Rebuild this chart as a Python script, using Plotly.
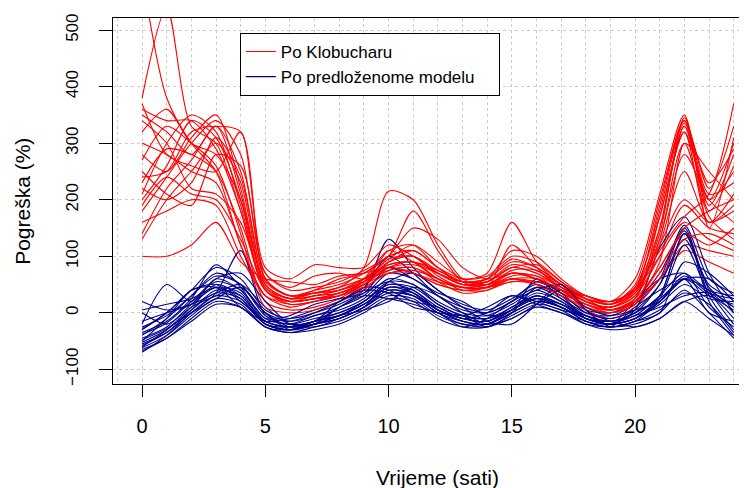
import plotly.graph_objects as go

hours = list(range(0, 25))

red_series = [
    [600, 380, 300, 250, 120, 30, 20, 25, 30, 60, 110, 90, 60, 45, 50, 70, 60, 40, 20, 10, 40, 150, 330, 200, 300],
    [380, 540, 330, 300, 180, 40, 15, 20, 30, 50, 90, 100, 70, 50, 55, 80, 70, 45, 25, 15, 50, 200, 340, 180, 260],
    [100, 100, 120, 160, 90, 60, 55, 50, 65, 70, 80, 70, 55, 45, 50, 60, 50, 35, 15, 5, 20, 60, 120, 110, 100],
    [130, 200, 250, 300, 230, 50, 25, 35, 45, 80, 215, 200, 120, 60, 50, 70, 60, 40, 30, 20, 60, 210, 350, 150, 310],
    [140, 220, 270, 330, 250, 60, 30, 40, 50, 70, 100, 180, 110, 55, 45, 60, 55, 40, 30, 15, 45, 170, 320, 200, 250],
    [180, 240, 300, 340, 280, 70, 45, 65, 70, 60, 90, 110, 80, 60, 70, 160, 90, 50, 30, 20, 40, 120, 200, 160, 180],
    [200, 260, 340, 310, 200, 40, 20, 25, 35, 55, 85, 90, 75, 55, 60, 95, 80, 50, 20, 10, 30, 100, 190, 150, 140],
    [210, 300, 350, 320, 190, 45, 25, 30, 40, 60, 95, 120, 90, 60, 65, 100, 90, 55, 25, 5, 20, 80, 150, 180, 200],
    [230, 290, 280, 250, 150, 20, 5, 10, 25, 50, 70, 75, 60, 40, 45, 60, 60, 40, 10, 0, 20, 90, 300, 170, 130],
    [240, 250, 320, 330, 320, 60, 30, 35, 45, 60, 80, 85, 70, 50, 50, 75, 75, 45, 20, 10, 35, 140, 345, 210, 230],
    [270, 330, 300, 260, 140, 10, 0, 5, 20, 40, 75, 80, 55, 35, 40, 55, 50, 30, 5, -10, 10, 60, 110, 90, 70],
    [300, 280, 250, 230, 120, 30, 10, 20, 30, 50, 80, 70, 50, 40, 45, 65, 65, 35, 15, 0, 15, 120, 250, 160, 190],
    [320, 360, 300, 280, 200, 50, 25, 40, 60, 70, 100, 110, 80, 50, 55, 85, 75, 50, 25, 20, 40, 110, 170, 210, 370],
    [340, 300, 220, 210, 160, 45, 20, 25, 35, 50, 90, 100, 65, 45, 45, 70, 60, 40, 20, 5, 25, 150, 330, 190, 280],
    [350, 320, 280, 330, 210, 55, 30, 35, 40, 60, 85, 90, 70, 55, 60, 90, 80, 50, 25, 15, 40, 190, 340, 220, 330],
    [360, 340, 340, 290, 180, 40, 20, 30, 35, 55, 110, 120, 80, 55, 55, 80, 70, 45, 20, 10, 30, 130, 280, 200, 160],
    [370, 280, 260, 250, 320, 80, 60, 85, 80, 80, 120, 100, 70, 50, 60, 110, 100, 60, 30, 20, 40, 100, 160, 130, 110],
    [220, 200, 230, 310, 240, 60, 30, 35, 40, 55, 75, 80, 60, 45, 45, 55, 55, 40, 15, 5, 25, 80, 140, 120, 150],
    [190, 240, 210, 200, 130, 40, 20, 25, 30, 45, 70, 70, 50, 40, 40, 60, 50, 30, 10, 0, 15, 70, 130, 140, 120],
    [250, 210, 190, 280, 260, 70, 40, 45, 55, 75, 100, 150, 130, 80, 60, 70, 65, 45, 25, 15, 35, 130, 300, 250, 200],
    [160, 180, 200, 190, 100, 30, 15, 20, 35, 50, 80, 90, 60, 45, 45, 120, 80, 40, 15, 5, 25, 170, 320, 160, 210],
    [280, 250, 310, 350, 220, 50, 25, 30, 40, 55, 95, 100, 75, 55, 55, 80, 85, 55, 30, 20, 45, 180, 335, 230, 290],
]

blue_series = [
    [-70, -40, 0, 30, 20, -20, -30, -20, -10, 10, 40, 30, 0, -15, -20, 0, 20, 10, -15, -20, -10, 30, 140, 40, -20],
    [-60, -30, 10, 50, 30, -15, -25, -15, 0, 20, 50, 40, 10, -10, -15, 10, 30, 15, -10, -15, 0, 50, 150, 30, -30],
    [-50, -10, 40, 45, 10, -15, -10, 5, 20, 45, 40, 20, 10, -10, 0, 30, 20, 5, -5, -20, 20, 60, 70, 40, 30],
    [-40, -10, 30, 70, 50, 0, -15, -5, 10, 30, 70, 60, 30, 10, 0, 20, 45, 25, 0, -5, 15, 60, 155, 60, 35],
    [-30, 0, 40, 80, 60, 5, -10, 0, 15, 40, 130, 80, 40, 15, 5, 25, 50, 30, 5, 0, 20, 70, 145, 20, -40],
    [0, -20, 10, 30, 45, 0, -25, -20, -5, 5, 20, 45, 30, 0, -20, -10, 15, 40, 5, -15, -25, -10, 20, 30, -10],
    [20, 5, 15, 35, 50, 10, -20, -15, 10, 30, 25, 15, 0, -5, -25, 0, 45, 30, -10, -20, -5, 10, 30, 35, 0],
    [-20, 50, 20, 60, 40, -15, -25, -20, -10, 10, 35, 30, 5, -15, -20, 0, 20, 10, -15, -25, -15, 20, 60, 40, 10],
    [-65, -45, -10, 20, 10, -25, -35, -25, -15, 5, 30, 25, -5, -20, -25, -10, 10, 0, -20, -25, -20, 0, 40, 0, -45],
    [-55, -35, 0, 35, 110, -5, -20, -10, 0, 20, 50, 45, 15, -5, -10, 5, 25, 15, -5, -15, -5, 30, 70, 10, -25],
    [-45, -25, 15, 45, 35, -20, -30, -15, -5, 15, 45, 40, 5, -10, -15, 5, 25, 10, -10, -20, 5, 115, 170, 70, 0],
    [-35, -15, 25, 85, 45, -10, -5, 15, 25, 35, 80, 60, 35, 20, -5, 5, 60, 25, -5, -20, 0, 25, 60, 30, 15],
    [-25, -5, 30, 65, 50, -5, -15, 0, 20, 45, 100, 70, 30, 5, 0, 20, 55, 35, 0, -10, 5, 50, 130, 50, 25],
    [-15, 0, 15, 60, 70, 20, -20, -25, -10, 10, 55, 70, 40, 10, -15, -20, 15, 50, 5, -25, -15, 0, 90, 70, 30],
    [5, 15, 25, 45, 25, -20, -30, -20, -5, 20, 55, 50, 15, -5, -10, 10, 35, 20, -10, -20, -10, 25, 120, 35, 5],
    [-68, -45, -15, 15, 10, -25, -35, -30, -20, 0, 25, 20, -10, -25, -25, -5, 15, 5, -20, -30, -25, -10, 20, -10, -40],
    [-58, -35, 5, 40, 30, -20, -30, -15, -5, 15, 45, 35, 5, -15, -20, 5, 30, 15, -10, -20, -10, 15, 50, 25, 20],
    [-48, -28, 0, 25, 45, 0, -30, -20, 10, 35, 55, 35, 5, -5, 10, 30, 15, 0, -15, -25, 10, 40, 60, 0, -15],
    [-38, -18, 20, 55, 40, -10, -20, -5, 5, 25, 60, 50, 20, 0, -5, 15, 40, 20, -5, -15, 0, 30, 140, 45, 10],
    [-28, 0, 40, 50, 20, -15, -25, -15, 20, 40, 35, 10, 0, -25, -10, 20, 40, 50, 10, -5, 5, 20, 60, 60, 20],
    [-62, -40, -5, 25, 15, -25, -30, -20, -10, 10, 35, 30, 0, -20, -20, 0, 20, 10, -15, -25, -15, 5, 35, 15, -35],
    [-52, -30, 5, 35, 25, -20, -25, -15, -5, 15, 40, 35, 5, -10, -15, 5, 30, 10, -10, -20, -10, 20, 65, 35, 25],
]

legend_labels = ["Po Klobucharu", "Po predloženome modelu"]
x_tick_vals = [0, 5, 10, 15, 20]
y_tick_vals = [-100, 0, 100, 200, 300, 400, 500]
x_title = "Vrijeme (sati)"
y_title = "Pogreška (%)"

RED = "#FF0000"
BLUE = "#00008B"
FONT = "Liberation Sans, Arial, sans-serif"

fig = go.Figure()
n = max(len(red_series), len(blue_series))
for i in range(n):
    if i < len(red_series):
        fig.add_trace(go.Scatter(
            x=hours, y=red_series[i], mode="lines",
            line=dict(color=RED, width=1.1, shape="spline", smoothing=0.8),
            name=legend_labels[0], legendgroup="red", showlegend=(i == 0),
            legendrank=1,
        ))
    if i < len(blue_series):
        fig.add_trace(go.Scatter(
            x=hours, y=blue_series[i], mode="lines",
            line=dict(color=BLUE, width=1.1, shape="spline", smoothing=0.8),
            name=legend_labels[1] + "\u00a0\u00a0\u00a0\u00a0", legendgroup="blue", showlegend=(i == 0),
            legendrank=2,
        ))

# page body has an 8px default margin: the figure is sized/offset to compensate
fig.update_layout(
    width=739, height=480,
    margin=dict(l=105, r=0, t=10, b=104, autoexpand=False),
    paper_bgcolor="white", plot_bgcolor="white",
    font=dict(family=FONT, size=17, color="black"),
    showlegend=True,
    legend=dict(
        x=0.2, y=0.959, xanchor="left", yanchor="top",
        bordercolor="black", borderwidth=1, bgcolor="white",
        font=dict(size=17, family=FONT, color="black"),
        tracegroupgap=0, itemwidth=30,
    ),
    xaxis=dict(
        range=[-1.18, 24.54], automargin=False,
        tickmode="array", tickvals=x_tick_vals,
        ticks="outside", ticklen=12, tickcolor="black", tickwidth=1,
        ticklabelstandoff=12,
        showline=True, linecolor="black", linewidth=1, mirror=True,
        showgrid=True, gridcolor="#CCCCCC", griddash="dot", gridwidth=1,
        minor=dict(dtick=1, tick0=0, showgrid=True, gridcolor="#CCCCCC", griddash="dot", ticks=""),
        zeroline=False,
        tickfont=dict(size=20),
    ),
    yaxis=dict(
        range=[-126, 521.6], automargin=False,
        tickmode="array", tickvals=y_tick_vals,
        ticks="outside", ticklen=13, tickcolor="black", tickwidth=1,
        tickangle=-90, ticklabelstandoff=14,
        showline=True, linecolor="black", linewidth=1, mirror=False,
        showgrid=True, gridcolor="#CCCCCC", griddash="dot", gridwidth=1,
        zeroline=False,
        tickfont=dict(size=17),
    ),
    annotations=[
        dict(text=x_title, xref="x", yref="paper", x=12, y=-0.255,
             xanchor="center", yanchor="middle", showarrow=False,
             font=dict(size=21, family=FONT, color="black")),
        dict(text=y_title, xref="paper", yref="y", x=-0.142, y=198,
             xanchor="center", yanchor="middle", textangle=-90, showarrow=False,
             font=dict(size=21, family=FONT, color="black")),
    ],
)

fig.write_html("out.html")
